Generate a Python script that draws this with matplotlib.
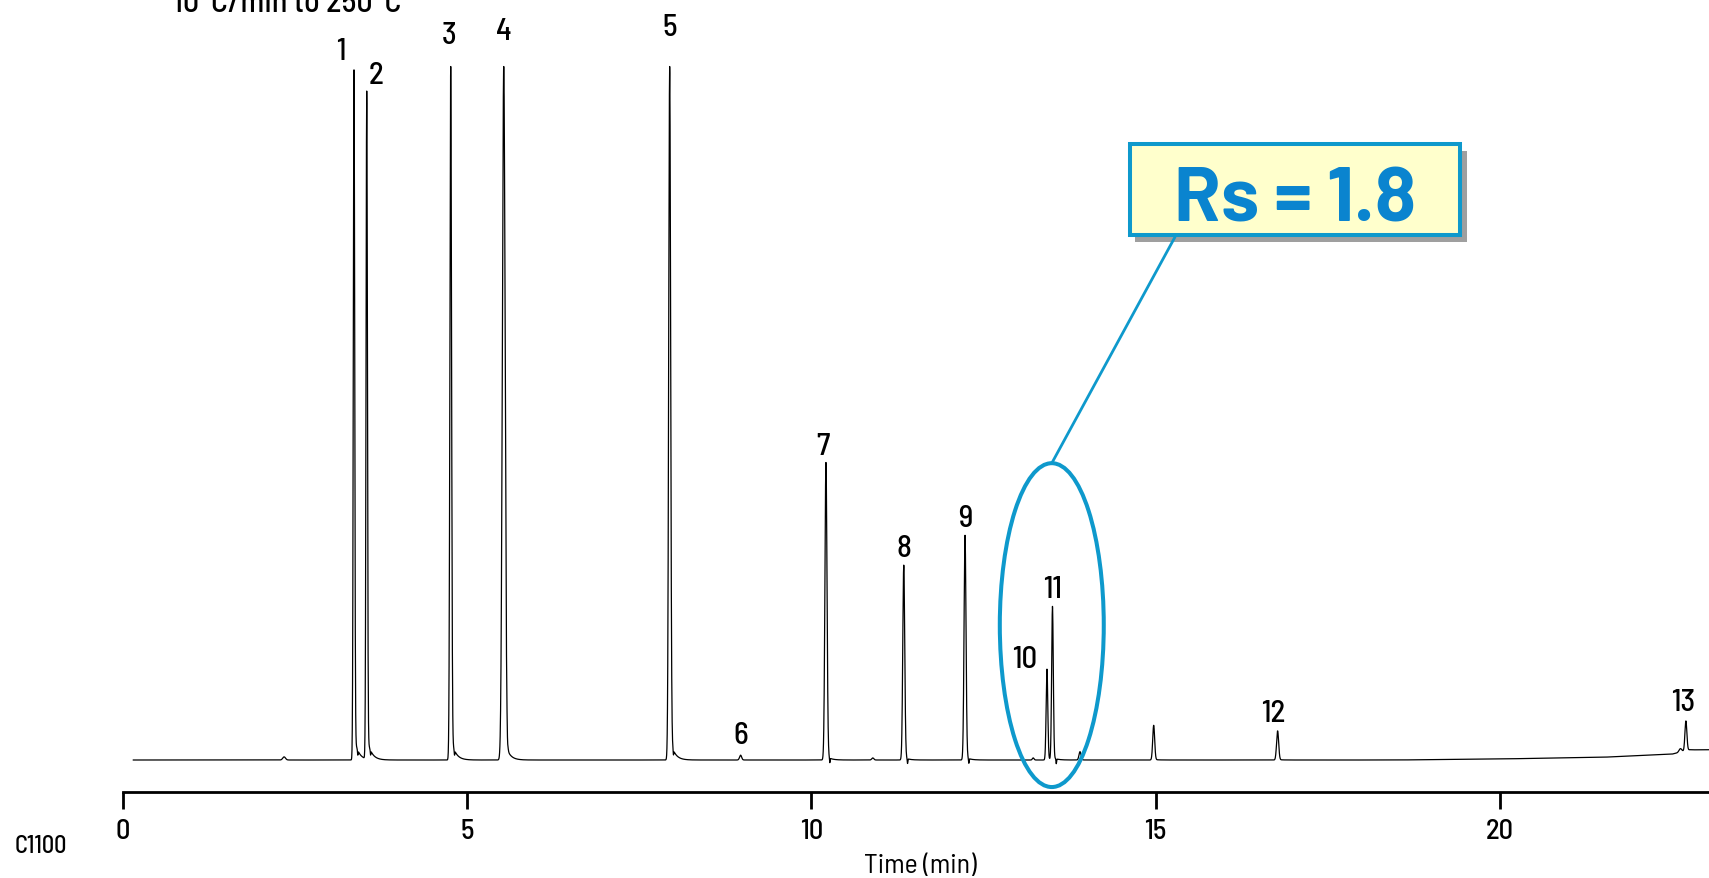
import matplotlib
matplotlib.use("Agg")
import matplotlib.pyplot as plt
from matplotlib.patches import Ellipse, Rectangle, ConnectionPatch
import numpy as np

plt.rcParams['font.family'] = ['Barlow Semi Condensed', 'DejaVu Sans']
plt.rcParams['font.weight'] = 'medium'

# peak table: retention time (min), height (% full scale), width (min), label
peak_times = [2.34, 3.355, 3.54, 4.76, 5.53, 7.94, 8.97, 10.21, 10.89, 11.34,
              12.23, 13.22, 13.42, 13.50, 13.90, 14.97, 16.77, 22.62, 22.70]
peak_heights = [0.45, 100, 96.3, 100, 100, 100, 0.7, 42.9, 0.3, 28.1,
                32.4, 0.3, 13.1, 22.1, 1.2, 5.0, 4.2, 0.5, 4.3]
peak_sigmas = [0.02, 0.010, 0.010, 0.012, 0.020, 0.014, 0.015, 0.015, 0.015, 0.014,
               0.014, 0.012, 0.012, 0.012, 0.015, 0.014, 0.015, 0.02, 0.014]
peak_labels = ['', '1', '2', '3', '4', '5', '6', '7', '', '8',
               '9', '', '10', '11', '', '', '12', '', '13']

# baseline drift at the end of the run
drift_t = [0.0, 18.5, 20.0, 21.5, 22.5, 22.75, 23.2]
drift_v = [0.0, 0.0, 0.15, 0.4, 0.85, 1.45, 1.5]

# label placement (pixels): horizontal shift, gap above peak apex
label_dx = {'1': -13, '2': 9, '3': -2, '10': -22, '7': -3, '12': -4, '13': -3}
label_gap = {'1': 7, '2': 9, '3': 24, '4': 27, '5': 32, '6': 12, '7': 8, '8': 9,
             '9': 9, '10': 2, '11': 10, '12': 10, '13': 11}

t = np.arange(0.15, 23.2, 0.002)
signal = np.interp(t, drift_t, drift_v)
for t0, h, s in zip(peak_times, peak_heights, peak_sigmas):
    g = np.exp(-0.5 * ((t - t0) / s) ** 2)
    signal += h * g
    # tailing
    frac = 0.035 if h >= 90 else 0.015
    signal += np.where(t > t0, frac * h * np.exp(-(t - t0) / 0.06), 0) * (1 - g)
    # small negative spike after big peaks
    if h > 20:
        signal -= 0.7 * np.exp(-0.5 * ((t - t0 - 0.055) / 0.004) ** 2)
signal = np.minimum(signal, 100)

W, H = 1709, 879
fig = plt.figure(figsize=(W / 100, H / 100), dpi=100)
ax = fig.add_axes([123 / W, 86 / H, 1586 / W, 793 / H])
ax.plot(t, signal, color='black', lw=0.9)
ax.set_xlim(0, 1586 / 68.85)
ax.set_ylim(-32 / 6.935, 761 / 6.935)

for side in ['left', 'right', 'top']:
    ax.spines[side].set_visible(False)
ax.spines['bottom'].set_linewidth(2)
ax.set_yticks([])
ax.set_xticks([0, 5, 10, 15, 20])
ax.tick_params(axis='x', direction='out', length=12, width=2, pad=7, labelsize=20.5)
ax.set_xlabel('Time (min)', fontsize=20, va='center')
ax.xaxis.set_label_coords(0.503, -0.092)

for t0, h, lab in zip(peak_times, peak_heights, peak_labels):
    if not lab:
        continue
    top = min(h + np.interp(t0, drift_t, drift_v), 100)
    ax.annotate(lab, xy=(t0, top), xytext=(label_dx.get(lab, 0), label_gap[lab]),
                textcoords='offset pixels', ha='center', va='baseline', fontsize=22.3)

# resolution callout around peaks 10 and 11
blue = '#0e99cc'
ell_c = (13.49, 19.45)
ell_h = 46.7
ax.add_patch(Ellipse(ell_c, 1.51, ell_h, fill=False, edgecolor=blue, lw=2.9, clip_on=False, zorder=5))

box_l, box_r, box_t, box_b = 1130.3, 1459.7, 144.7, 236.3
fig.add_artist(Rectangle(((box_l + 5) / W, 1 - (box_b + 7) / H), (box_r - box_l + 2) / W, (box_b - box_t) / H,
                         transform=fig.transFigure, facecolor='#9f9f9f', edgecolor='none', zorder=6))
fig.add_artist(ConnectionPatch(xyA=(ell_c[0], ell_c[1] + ell_h / 2), coordsA=ax.transData,
                               xyB=(1175 / W, 1 - 238 / H), coordsB=fig.transFigure,
                               color=blue, lw=2, zorder=6))
fig.add_artist(Rectangle((box_l / W, 1 - box_b / H), (box_r - box_l) / W, (box_b - box_t) / H,
                         transform=fig.transFigure, facecolor='#ffffcc', edgecolor=blue, lw=2.9, zorder=7))
fig.text((box_l + box_r) / 2 / W, 1 - 222 / H, 'Rs = 1.8', color='#0a84cf', fontsize=55,
         family=['Barlow', 'Barlow Semi Condensed', 'DejaVu Sans'],
         fontweight='bold', ha='center', va='baseline', zorder=8)

fig.text(173 / W, 1 - 12 / H, '10°C/min to 250°C', fontsize=23, ha='left', va='baseline')
fig.text(15 / W, 1 - 847 / H, 'C1100', fontsize=17.5, ha='left', va='center')

fig.savefig('out.png', dpi=100)
